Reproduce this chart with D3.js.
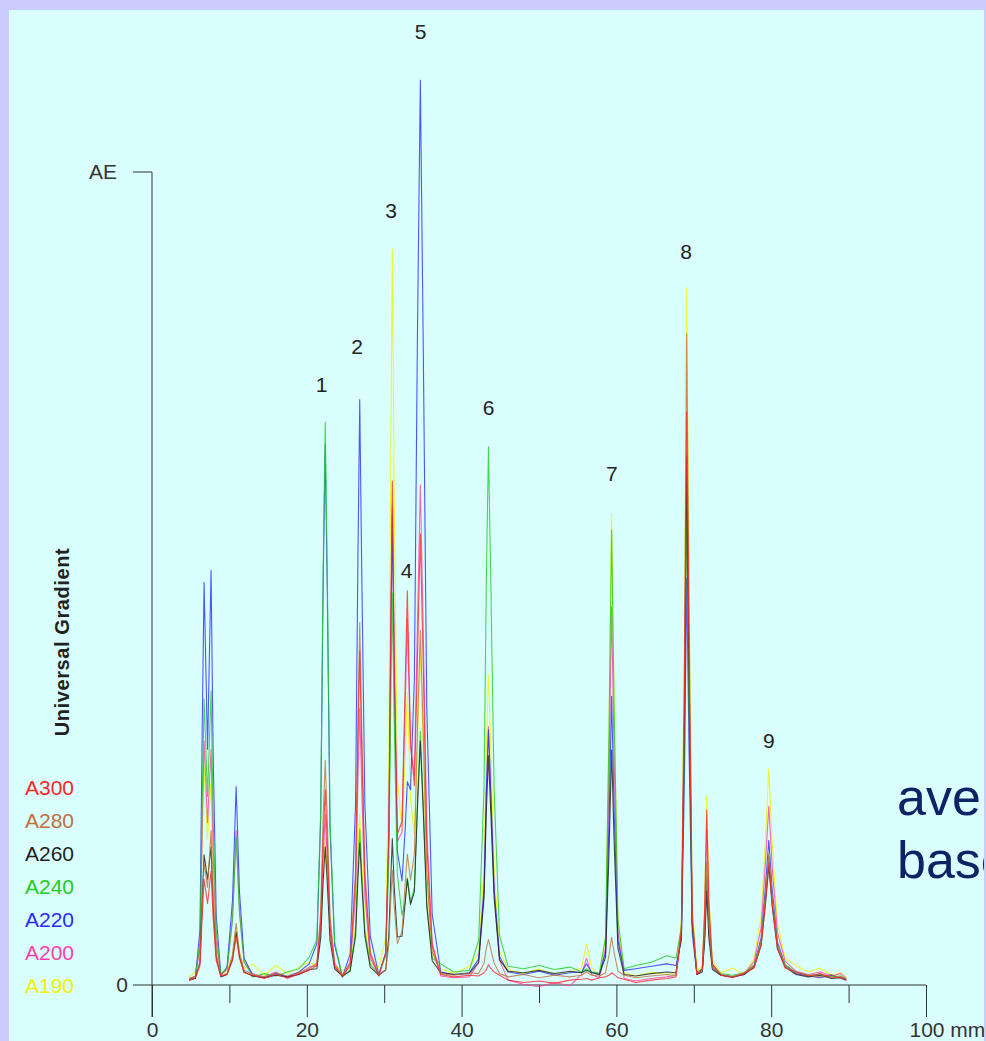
<!DOCTYPE html>
<style>
    body { margin: 0; background: #ccccff; }
    svg { display: block; }
    text { font-family: "Liberation Sans", Arial, sans-serif; }
</style>
<svg width="986" height="1041"></svg>
<script src="https://d3js.org/d3.v7.min.js"></script>
<script>

    // retention position (mm) shared by all traces
    var xs = [4.8,5.6,6.2,6.5,6.73,7.18,7.63,7.9,8.3,8.9,
        9.7,10.4,10.87,11.3,11.9,13.0,14.5,16.0,17.5,19.0,
        20.3,21.3,21.8,22.1,22.38,22.65,23.0,23.6,24.6,25.6,
        26.3,26.6,26.84,27.1,27.5,28.2,29.3,30.2,30.6,30.85,
        31.05,31.3,31.7,32.3,32.7,32.99,33.4,33.9,34.3,34.67,
        35.05,35.5,36.2,37.3,39.0,41.0,42.2,42.9,43.2,43.47,
        43.8,44.2,44.9,46.0,48.0,50.0,52.0,54.0,55.5,56.14,
        56.8,57.8,58.6,59.05,59.38,59.7,60.2,61.0,62.5,64.5,
        66.5,67.7,68.4,68.8,69.08,69.4,69.8,70.4,71.1,71.4,
        71.67,71.95,72.4,73.5,75.0,76.5,77.8,78.7,79.25,79.69,
        80.15,80.8,81.8,83.2,84.8,86.3,87.8,89.0,89.7];

    var a300 = [0.6,0.9,2.4,8.8,13,10,14,8.2,3,1.1,
        1.3,3,6,3.3,1.5,1.2,0.8,1.3,0.9,1.4,
        1.8,2.4,7.9,17.6,24,17.6,7.4,2.4,1.0,2.6,
        13,29.8,41,29,13,3.8,1.1,4,19.3,44.9,
        62,40.7,18.6,20.1,36.6,48.5,30.2,24.5,40.2,55.5,
        39.2,17.4,4.8,1.3,1.0,1.2,1.1,1.5,1.9,2.5,
        2.0,1.6,1.2,0.6,0.3,0.5,0.2,0.6,0.7,0.8,
        0.6,0.9,1.0,1.2,1.5,1.3,0.9,0.7,0.3,0.6,
        0.8,1.0,6.6,35.8,70.5,39.2,8,1.3,2,9.2,
        21.5,10.2,2.6,1.2,0.9,1.4,2.1,4.9,10.1,15,
        9.7,4.5,2.1,1.6,1.1,1.4,0.9,1.0,0.6];

    var a280 = [0.7,1.0,2.8,10.2,15,12,19,11,3.8,1.2,
        1.4,3.7,7.6,4.0,1.8,1.3,1.0,1.5,1.1,1.6,
        2.0,2.7,9.1,20.2,27.6,20.2,8.5,2.7,1.2,2.8,
        14.1,32.4,44.6,31.6,14.1,4.1,1.2,1.8,5.0,10.5,
        14.1,9.6,5.1,6.6,12.4,16.1,12.9,16.1,31.7,43.6,
        30.9,13.9,4.1,1.4,1.2,1.5,1.4,2.7,4.5,5.6,
        4.3,2.7,1.4,1.0,1.3,0.9,1.2,1.0,1.2,1.6,
        1.2,1.1,1.5,3.7,5.9,4.0,1.7,1.2,0.9,1.1,
        1.3,1.2,7.4,40.6,80.1,44.6,9,1.4,1.8,6.7,
        15.1,7.4,2.2,1.3,1.0,1.5,2.3,5.3,10.9,16.1,
        10.4,4.9,2.3,1.5,1.2,1.0,1.3,0.8,0.7];

    var a260 = [0.6,0.8,2.8,10.8,16,13,17,9.8,3.4,1.0,
        1.3,3.2,6.5,3.5,1.6,1.1,0.9,1.2,1.0,1.3,
        1.9,2.0,5.8,12.5,17,12.5,5.5,2.0,1.1,1.7,
        6,12.9,17.5,12.6,6,2.2,1.2,1.9,6.1,13.2,
        18,12,5.9,6.0,10,13,9.9,11.5,21.9,30,
        21.3,9.7,3,1.5,1.3,1.4,2.8,10.7,21.5,28.2,
        20.6,10.7,3.1,1.7,1.5,1.8,1.4,1.7,1.5,1.8,
        1.5,1.3,3.4,16.4,28.9,17.8,4.5,1.3,1.1,1.4,
        1.6,1.5,6.2,33.1,65.1,36.3,7.5,1.3,1.6,5.3,
        11.6,5.8,1.9,1.2,1.0,1.3,2.2,4.9,9.9,14.6,
        9.5,4.5,2.2,1.3,1.0,1.2,0.8,0.9,0.6];

    var a240 = [0.8,1.0,5.3,23.3,35.2,23.2,36.2,20.5,6.5,1.3,
        2.1,8,18.2,8.9,2.9,1.0,1.4,1.1,1.6,2.0,
        3.4,5.6,21.6,50.2,69.2,50.2,20.2,5.3,1.0,1.9,
        6.6,14.2,19.2,13.8,6.6,2.5,1.4,3.6,15.3,35,
        48.2,31.8,13.6,8.6,10.2,13.2,10.2,12,22.8,31.2,
        22.2,10.2,3.3,2.6,1.6,1.8,5.5,24.2,50,66.2,
        48.1,24.2,6.1,2.3,2.0,2.4,1.9,2.2,1.6,2.0,
        1.6,1.5,5.9,31.5,56,34.2,8,2.0,2.4,2.8,
        3.6,3.3,7.1,30.5,59.5,33.4,7.3,1.6,2.0,6.2,
        13.4,6.8,2.4,1.4,1.2,1.5,2.5,5.4,10.7,15.8,
        10.3,4.9,2.5,1.6,1.2,1.3,1.0,1.1,0.7];

    var a220 = [0.7,0.9,6.8,32.5,49.5,29,51,28.5,8.5,1.2,
        2.2,10.4,24.4,11.5,3.3,1.2,0.9,1.4,1.0,1.6,
        2.6,5.1,20.7,48.2,66.5,48.2,19.3,4.9,1.0,3.8,
        22.3,52.1,72,50.7,22.3,6,1.3,3.9,18.1,42,
        58,38,16.5,12.8,19,25,24,37.7,80.4,111.3,
        78.2,34.1,8.7,1.6,1.3,1.5,3.2,11.9,23.9,31.4,
        23,11.9,3.5,1.6,1.3,1.7,1.2,1.5,1.6,2.6,
        1.6,1.3,4,20.1,35.5,21.8,5.4,1.8,2.0,2.3,
        2.6,2.4,5.5,25.7,50,28.1,6.3,1.3,1.8,6,
        13.2,6.6,2.2,1.2,1.0,1.3,2.4,5.8,12,17.8,
        11.5,5.3,2.4,1.4,1.1,0.9,1.2,0.8,0.6];

    var a200 = [0.8,1.1,4.5,19.9,30,20,29,16.4,5.2,1.3,
        1.9,8.2,19,9.1,2.8,1.4,1.0,1.6,0.8,1.4,
        2.2,2.4,7,15.4,21,15.4,6.6,2.2,1.2,2.3,
        10.9,24.8,34,24.1,10.9,3.3,1.2,3.9,18.4,42.8,
        59,38.7,17.7,18.8,34,45,29,25.8,44.6,61.5,
        43.4,19.2,5.2,1.1,0.9,1.0,2.7,11.7,24.1,31.8,
        23.1,11.7,3,0.6,0.1,-0.2,0.3,-0.1,1.3,3.3,
        1.3,0.9,4.6,26,46.5,28.3,6.5,0.8,0.5,0.8,
        1.0,1.2,6.2,33.1,65,36.3,7.5,1.3,2,8.3,
        19,9.2,2.5,1.3,1.0,1.4,2.9,7.1,14.9,22,
        14.2,6.5,2.9,1.7,1.3,1.6,1.1,1.4,0.8];

    var a190 = [1.0,1.6,4.4,18.2,27,18,25,14.5,4.9,1.6,
        1.6,3.7,7,4,2.0,2.6,1.2,2.4,1.4,2.2,
        2.8,2.3,6.4,13.5,18,13.5,6.1,2.3,1.8,2.1,
        7.3,15.7,21,15.3,7.3,2.7,2.2,5.8,28.2,65.7,
        90.5,59.5,25.5,19,27.6,36,22.8,18.6,30.1,41,
        29.3,13.3,4.1,2.0,1.4,2.3,3.8,14.6,29.4,38.2,
        28.2,14.6,4.2,1.9,1.4,2.0,1.2,1.6,2.1,5.1,
        2.1,1.2,5.7,32.4,58,35.2,8,1.5,1.1,1.6,
        1.3,1.5,8,43.5,85.8,47.7,9.7,1.8,2.3,10,
        23.2,11.1,2.9,1.5,2.1,1.3,3.3,8.4,17.7,26.6,
        17,7.6,3.3,2.4,1.6,2.1,1.2,1.5,0.9];

    var seriesNames = ["A300", "A280", "A260", "A240", "A220", "A200", "A190"];
    var seriesColors = ["#ff2626", "#c0703c", "#1e1e1e", "#22cc22", "#2a2aff", "#ff3fa6", "#f2f200"];
    var seriesValues = [a300, a280, a260, a240, a220, a200, a190];

    // peak numbers, placed in data units (mm, AE %)
    var peakNames = ["1", "2", "3", "4", "5", "6", "7", "8", "9"];
    var peakMm = [21.9, 26.5, 30.9, 32.9, 34.7, 43.5, 59.4, 69.0, 79.7];
    var peakAE = [73.9, 78.5, 95.3, 51.0, 117.3, 71.0, 62.9, 90.2, 30.1];

    var xMajor = [0, 20, 40, 60, 80, 100];
    var xMinor = [10, 30, 50, 70, 90];

    var svg = d3.select("svg"),
        width = +svg.attr("width"),
        height = +svg.attr("height");

    var x = d3.scaleLinear().domain([0, 100]).range([152, 926]);
    var y = d3.scaleLinear().domain([0, 100]).range([985, 172]);

    // slide panel
    svg.append("rect")
        .attr("x", 9).attr("y", 10)
        .attr("width", width - 10).attr("height", height - 10)
        .attr("fill", "#daffff");

    var ink = "#333";

    // x axis: long ticks with labels, short ticks between
    var gx = svg.append("g")
        .attr("transform", "translate(0," + y(0) + ")")
        .call(d3.axisBottom(x).tickValues(xMajor).tickSize(32).tickPadding(5));
    gx.select(".domain").remove();
    gx.selectAll(".tick line").attr("stroke", ink);
    gx.selectAll(".tick text")
        .attr("font-size", 21).attr("fill", ink)
        .attr("font-family", "Liberation Sans, Arial, sans-serif");
    gx.selectAll(".tick text").filter(function(d) { return d === 100; })
        .attr("text-anchor", "start").attr("x", -17)
        .text("100 mm");

    var gxm = svg.append("g")
        .attr("transform", "translate(0," + y(0) + ")")
        .call(d3.axisBottom(x).tickValues(xMinor).tickSize(18).tickFormat(""));
    gxm.select(".domain").remove();
    gxm.selectAll(".tick line").attr("stroke", ink);

    svg.append("line")
        .attr("x1", x(0) - 19).attr("x2", x(100))
        .attr("y1", y(0)).attr("y2", y(0))
        .attr("stroke", ink);

    // y axis
    svg.append("line")
        .attr("x1", x(0)).attr("x2", x(0))
        .attr("y1", y(100)).attr("y2", y(0) + 32)
        .attr("stroke", ink);
    svg.append("line")
        .attr("x1", x(0) - 19).attr("x2", x(0))
        .attr("y1", y(100)).attr("y2", y(100))
        .attr("stroke", ink);
    svg.append("text")
        .attr("x", x(0) - 35).attr("y", y(100))
        .attr("dy", "0.35em").attr("text-anchor", "end")
        .attr("font-size", 21).attr("fill", ink)
        .text("AE");
    svg.append("text")
        .attr("x", x(0) - 24).attr("y", y(0))
        .attr("dy", "0.35em").attr("text-anchor", "end")
        .attr("font-size", 21).attr("fill", ink)
        .text("0");

    svg.append("text")
        .attr("transform", "translate(69,642) rotate(-90)")
        .attr("text-anchor", "middle")
        .attr("font-size", 20).attr("font-weight", "bold")
        .attr("letter-spacing", 0.6)
        .attr("fill", "#222")
        .text("Universal Gradient");

    // traces, yellow drawn first so the darker ones sit on top
    var line = d3.line()
        .x(function(d, i) { return x(xs[i]); })
        .y(function(d) { return y(d); });

    svg.append("g")
        .selectAll("path")
        .data(d3.range(seriesValues.length).reverse())
        .enter().append("path")
        .attr("fill", "none")
        .attr("stroke", function(k) { return seriesColors[k]; })
        .attr("stroke-width", 1.1)
        .attr("stroke-opacity", 0.8)
        .attr("stroke-linejoin", "round")
        .attr("d", function(k) { return line(seriesValues[k]); });

    // legend
    svg.append("g")
        .selectAll("text")
        .data(seriesNames)
        .enter().append("text")
        .attr("x", 25)
        .attr("y", function(d, i) { return 788 + i * 33; })
        .attr("dy", "0.35em")
        .attr("font-size", 21)
        .attr("fill", function(d, i) { return seriesColors[i]; })
        .text(function(d) { return d; });

    // peak numbers
    svg.append("g")
        .selectAll("text")
        .data(peakNames)
        .enter().append("text")
        .attr("x", function(d, i) { return x(peakMm[i]); })
        .attr("y", function(d, i) { return y(peakAE[i]); })
        .attr("dy", "0.35em")
        .attr("text-anchor", "middle")
        .attr("font-size", 21)
        .attr("fill", "#222")
        .text(function(d) { return d; });

    // slide text running off the right edge
    svg.append("text")
        .attr("x", 897).attr("y", 815)
        .attr("font-family", "Open Sans, Noto Sans, sans-serif")
        .attr("font-size", 52).attr("fill", "#0b2466")
        .text("average");
    svg.append("text")
        .attr("x", 897).attr("y", 878)
        .attr("font-family", "Open Sans, Noto Sans, sans-serif")
        .attr("font-size", 52).attr("fill", "#0b2466")
        .text("based");

    // thin right frame edge
    svg.append("rect")
        .attr("x", width - 2).attr("y", 0)
        .attr("width", 2).attr("height", height)
        .attr("fill", "#ccccff");

</script>
